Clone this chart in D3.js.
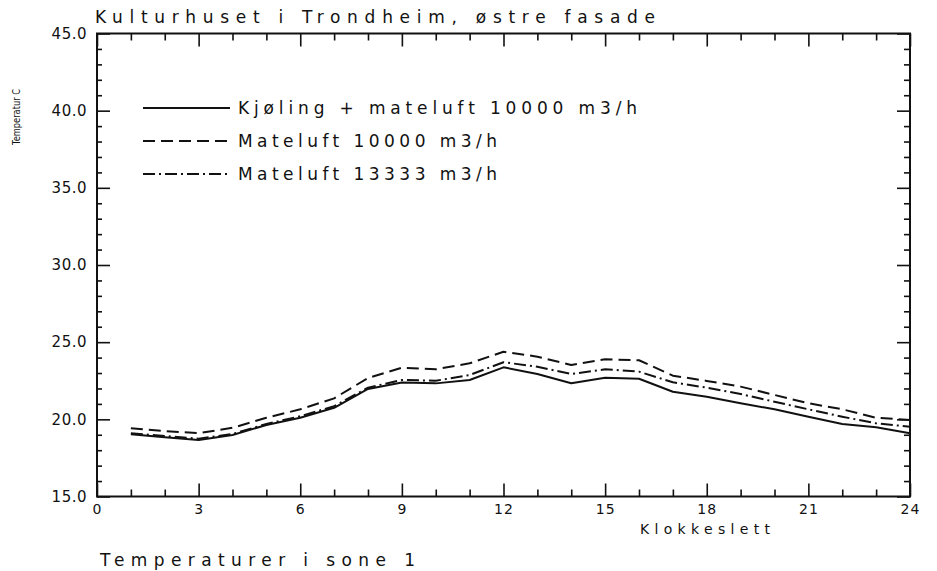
<!DOCTYPE html>
<html>
<head>
<meta charset="utf-8">
<script src="https://cdn.jsdelivr.net/npm/d3@7"></script>
<style>
  html, body { margin: 0; padding: 0; background: #fff; }
  svg text { font-family: "DejaVu Sans", "Liberation Sans", sans-serif; fill: #111; }
</style>
</head>
<body>
<svg id="chart" width="937" height="571"></svg>
<script>
// Hourly temperatures in zone 1 (°C), hours 1..24
const hours = d3.range(1, 25);
const coolingAir10000 = [19.03, 18.84, 18.66, 18.99, 19.63, 20.10, 20.75, 21.97, 22.38, 22.33, 22.55, 23.37,
                         22.94, 22.34, 22.70, 22.63, 21.79, 21.47, 21.04, 20.65, 20.17, 19.70, 19.48, 19.10];
const supplyAir10000   = [19.42, 19.24, 19.10, 19.45, 20.10, 20.65, 21.36, 22.68, 23.35, 23.24, 23.63, 24.38,
                         24.06, 23.52, 23.89, 23.83, 22.83, 22.49, 22.12, 21.58, 21.04, 20.65, 20.10, 19.96];
const supplyAir13333   = [19.10, 18.92, 18.75, 19.05, 19.70, 20.20, 20.85, 22.05, 22.55, 22.50, 22.87, 23.70,
                         23.41, 22.94, 23.24, 23.09, 22.40, 22.05, 21.64, 21.14, 20.65, 20.17, 19.74, 19.52];

const seriesNames = ["Kjøling + mateluft 10000 m3/h", "Mateluft 10000 m3/h", "Mateluft 13333 m3/h"];
const xMajorTicks = [0, 3, 6, 9, 12, 15, 18, 21, 24];
const yMajorTicks = [15, 20, 25, 30, 35, 40, 45];

const titleText = "Kulturhuset i Trondheim, østre fasade";
const yLabel = "Temperatur C";
const xLabel = "Klokkeslett";
const footText = "Temperaturer i sone 1";

const svg = d3.select("#chart");
const L = 97, R = 910, T = 33.5, B = 496.5;

const x = d3.scaleLinear().domain([0, 24]).range([L, R]);
const y = d3.scaleLinear().domain([15, 45]).range([B, T]);

const ink = "#111";

// Axes with inward ticks: minor every hour / degree, major every 3 h / 5 °C
function styleAxis(g) {
  g.select(".domain").remove();
  g.selectAll(".tick line").attr("stroke", ink).attr("stroke-width", 1.6);
}

const minorX = d3.range(0, 25).filter(h => h % 3 !== 0);
const minorY = d3.range(15, 46).filter(t => t % 5 !== 0);

svg.append("g").attr("transform", `translate(0,${B})`)
  .call(d3.axisBottom(x).tickValues(minorX).tickSize(-7).tickFormat(""))
  .call(styleAxis);
svg.append("g").attr("transform", `translate(0,${B})`)
  .call(d3.axisBottom(x).tickValues(xMajorTicks).tickSize(-13).tickPadding(8).tickFormat(d3.format("d")))
  .call(styleAxis)
  .call(g => g.selectAll("text").attr("font-size", 14).style("letter-spacing", "1px").attr("fill", ink));

svg.append("g").attr("transform", `translate(0,${T})`)
  .call(d3.axisTop(x).tickValues(minorX).tickSize(-7).tickFormat(""))
  .call(styleAxis);
svg.append("g").attr("transform", `translate(0,${T})`)
  .call(d3.axisTop(x).tickValues(xMajorTicks).tickSize(-13).tickFormat(""))
  .call(styleAxis);

svg.append("g").attr("transform", `translate(${L},0)`)
  .call(d3.axisLeft(y).tickValues(minorY).tickSize(-5).tickFormat(""))
  .call(styleAxis);
svg.append("g").attr("transform", `translate(${L},0)`)
  .call(d3.axisLeft(y).tickValues(yMajorTicks).tickSize(-13).tickPadding(10).tickFormat(d3.format(".1f")))
  .call(styleAxis)
  .call(g => g.selectAll("text").attr("font-size", 15).style("letter-spacing", "0.5px").attr("fill", ink));

svg.append("g").attr("transform", `translate(${R},0)`)
  .call(d3.axisRight(y).tickValues(minorY).tickSize(-6).tickFormat(""))
  .call(styleAxis);
svg.append("g").attr("transform", `translate(${R},0)`)
  .call(d3.axisRight(y).tickValues(yMajorTicks).tickSize(-13).tickFormat(""))
  .call(styleAxis);

// Frame
svg.append("rect")
  .attr("x", L).attr("y", T).attr("width", R - L).attr("height", B - T)
  .attr("fill", "none").attr("stroke", ink).attr("stroke-width", 2);

// Series lines
const dashes = [null, "12,6", "12,4,2,4"];
const series = [coolingAir10000, supplyAir10000, supplyAir13333];
const line = d3.line().x((d, i) => x(hours[i])).y(d => y(d));

series.forEach((vals, k) => {
  svg.append("path")
    .datum(vals)
    .attr("d", line)
    .attr("fill", "none")
    .attr("stroke", ink)
    .attr("stroke-width", 2)
    .attr("stroke-linejoin", "round")
    .attr("stroke-dasharray", dashes[k]);
});

// Legend
const legendRows = [108, 141, 174];
const legendWidths = [399, 259, 259];
seriesNames.forEach((name, k) => {
  svg.append("line")
    .attr("x1", 143).attr("x2", 230)
    .attr("y1", legendRows[k]).attr("y2", legendRows[k])
    .attr("stroke", ink).attr("stroke-width", 2)
    .attr("stroke-dasharray", dashes[k]);
  svg.append("text")
    .attr("x", 238).attr("y", legendRows[k] + 6)
    .attr("font-size", 17)
    .attr("textLength", legendWidths[k])
    .attr("lengthAdjust", "spacing")
    .text(name);
});

// Titles and labels
svg.append("text")
  .attr("x", 95).attr("y", 23)
  .attr("font-size", 17)
  .attr("textLength", 560).attr("lengthAdjust", "spacing")
  .text(titleText);

svg.append("text")
  .attr("transform", "translate(20,145) rotate(-90)")
  .attr("font-size", 11)
  .attr("textLength", 56).attr("lengthAdjust", "spacingAndGlyphs")
  .text(yLabel);

svg.append("text")
  .attr("x", 640).attr("y", 534)
  .attr("font-size", 14)
  .attr("textLength", 130).attr("lengthAdjust", "spacing")
  .text(xLabel);

svg.append("text")
  .attr("x", 100).attr("y", 566)
  .attr("font-size", 17)
  .attr("textLength", 315).attr("lengthAdjust", "spacing")
  .text(footText);
</script>
</body>
</html>
